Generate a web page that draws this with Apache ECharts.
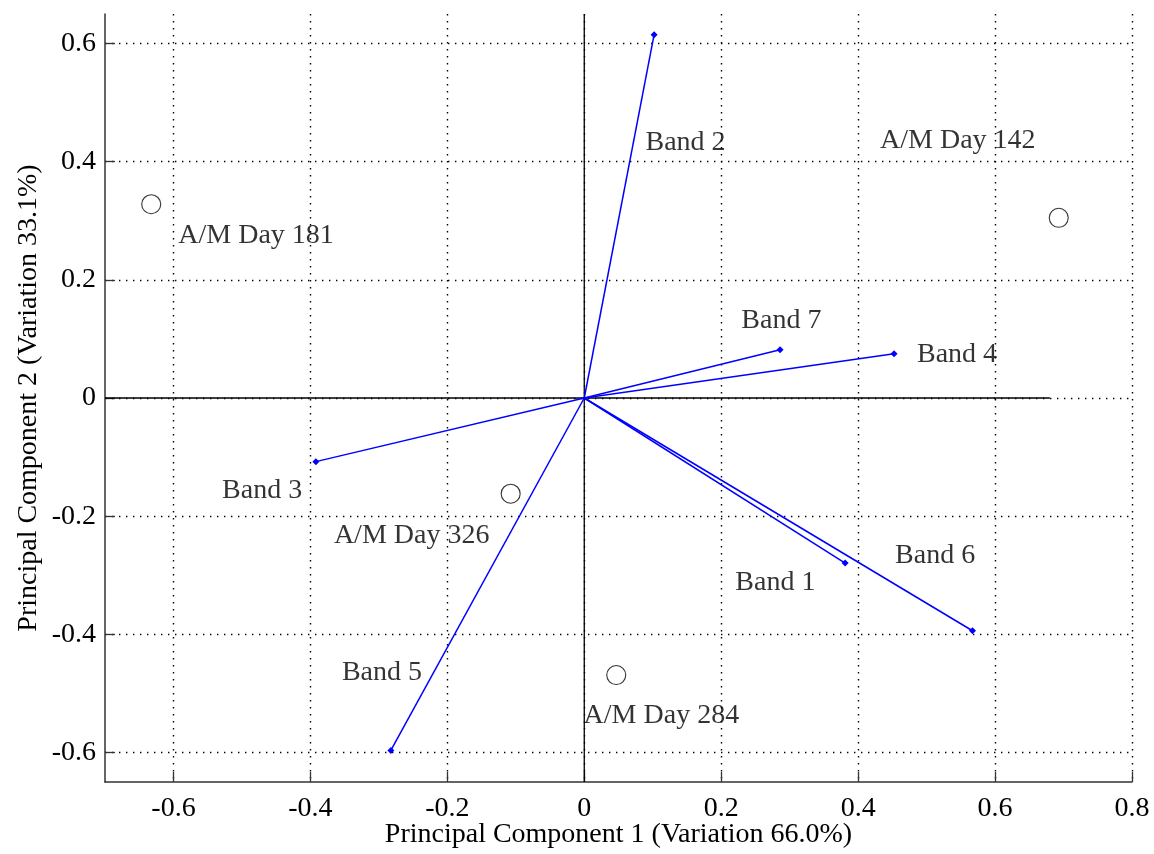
<!DOCTYPE html>
<html>
<head>
<meta charset="utf-8">
<script src="https://cdn.jsdelivr.net/npm/echarts@6/dist/echarts.min.js"></script>
<style>
html,body{margin:0;padding:0;background:#fff;}
#chart{width:1154px;height:854px;}
</style>
</head>
<body>
<div id="chart"></div>
<script>
// Loading vectors (bands)
var bandNames = ['Band 1', 'Band 2', 'Band 3', 'Band 4', 'Band 5', 'Band 6', 'Band 7'];
var bandPC1 = [0.381, 0.102, -0.392, 0.4525, -0.2825, 0.567, 0.286];
var bandPC2 = [-0.2795, 0.615, -0.1077, 0.0749, -0.5966, -0.394, 0.0816];
var bandLabelX = [0.2207, 0.0894, -0.529, 0.486, -0.354, 0.454, 0.2294];
var bandLabelY = [-0.3121, 0.4315, -0.1567, 0.0732, -0.4643, -0.2665, 0.1306];

// Scores (dates)
var dayNames = ['A/M Day 142', 'A/M Day 181', 'A/M Day 284', 'A/M Day 326'];
var dayPC1 = [0.693, -0.6325, 0.0467, -0.1075];
var dayPC2 = [0.305, 0.328, -0.469, -0.162];
var dayLabelX = [0.432, -0.593, -0.001, -0.3657];
var dayLabelY = [0.435, 0.274, -0.5369, -0.2327];

var xTicks = [-0.6, -0.4, -0.2, 0, 0.2, 0.4, 0.6, 0.8];
var yTicks = [-0.6, -0.4, -0.2, 0, 0.2, 0.4, 0.6];
var xRange = [-0.7, 0.8];
var yRange = [-0.65, 0.65];
var hZeroEnd = 0.68;

var font = '"Liberation Serif", "Times New Roman", serif';
var fs = 28;

function fmt(v) {
  if (Math.abs(v) < 1e-9) return '0';
  return v.toFixed(1);
}

var series = [];

// zero lines
series.push({
  type: 'line', silent: true, symbol: 'none', z: 3,
  lineStyle: { color: '#000', width: 1.3 },
  data: [[xRange[0], 0], [hZeroEnd, 0]]
});
series.push({
  type: 'line', silent: true, symbol: 'none', z: 3,
  lineStyle: { color: '#000', width: 1.3 },
  data: [[0, yRange[0]], [0, yRange[1]]]
});

// vectors
bandNames.forEach(function (n, i) {
  series.push({
    type: 'line', name: n, silent: true, z: 4,
    symbol: 'diamond', symbolSize: 7,
    lineStyle: { color: '#0000ff', width: 1.5 },
    itemStyle: { color: '#0000ff' },
    data: [{ value: [0, 0], symbol: 'none' }, { value: [bandPC1[i], bandPC2[i]] }]
  });
});

// score circles
series.push({
  type: 'scatter', silent: true, z: 5,
  symbol: 'circle', symbolSize: 19,
  itemStyle: { color: 'rgba(255,255,255,0)', borderColor: '#000', borderWidth: 1.1 },
  data: dayPC1.map(function (x, i) { return [x, dayPC2[i]]; })
});

// text labels
var labelData = [];
bandNames.forEach(function (n, i) { labelData.push({ value: [bandLabelX[i], bandLabelY[i]], name: n }); });
dayNames.forEach(function (n, i) { labelData.push({ value: [dayLabelX[i], dayLabelY[i]], name: n }); });
series.push({
  type: 'scatter', silent: true, z: 6,
  symbolSize: 0,
  data: labelData,
  label: {
    show: true, position: [0, 0], align: 'left', verticalAlign: 'middle',
    formatter: function (p) { return p.name; },
    color: '#000', fontFamily: font, fontSize: fs
  }
});

var dotted = { color: '#000', width: 1.4, type: [1.4, 5.6] };

var option = {
  backgroundColor: '#fff',
  animation: false,
  grid: { left: 105, right: 22, top: 14, bottom: 72, outerBoundsMode: 'none', containLabel: false },
  xAxis: {
    type: 'value', min: xRange[0], max: xRange[1],
    name: 'Principal Component 1 (Variation 66.0%)',
    nameLocation: 'middle', nameGap: 39, nameMoveOverlap: false,
    nameTextStyle: { fontFamily: font, fontSize: fs, color: '#000' },
    axisLine: { show: true, onZero: false, lineStyle: { color: '#333', width: 1.5 } },
    axisTick: { show: true, inside: true, length: 10, customValues: xTicks, lineStyle: { color: '#333', width: 1.3 } },
    axisLabel: { show: true, customValues: xTicks, margin: 13, formatter: fmt, fontFamily: font, fontSize: fs, color: '#000' },
    splitLine: { show: true, lineStyle: dotted }
  },
  yAxis: {
    type: 'value', min: yRange[0], max: yRange[1],
    name: 'Principal Component 2 (Variation 33.1%)',
    nameLocation: 'middle', nameGap: 62, nameMoveOverlap: false,
    nameTextStyle: { fontFamily: font, fontSize: fs, color: '#000' },
    axisLine: { show: true, onZero: false, lineStyle: { color: '#333', width: 1.5 } },
    axisTick: { show: true, inside: true, length: 10, customValues: yTicks, lineStyle: { color: '#333', width: 1.3 } },
    axisLabel: { show: true, customValues: yTicks, margin: 9, formatter: fmt, fontFamily: font, fontSize: fs, color: '#000' },
    splitLine: { show: true, lineStyle: dotted }
  },
  series: series
};

var chart = echarts.init(document.getElementById('chart'), null, { renderer: 'canvas' });
chart.setOption(option);
</script>
</body>
</html>
